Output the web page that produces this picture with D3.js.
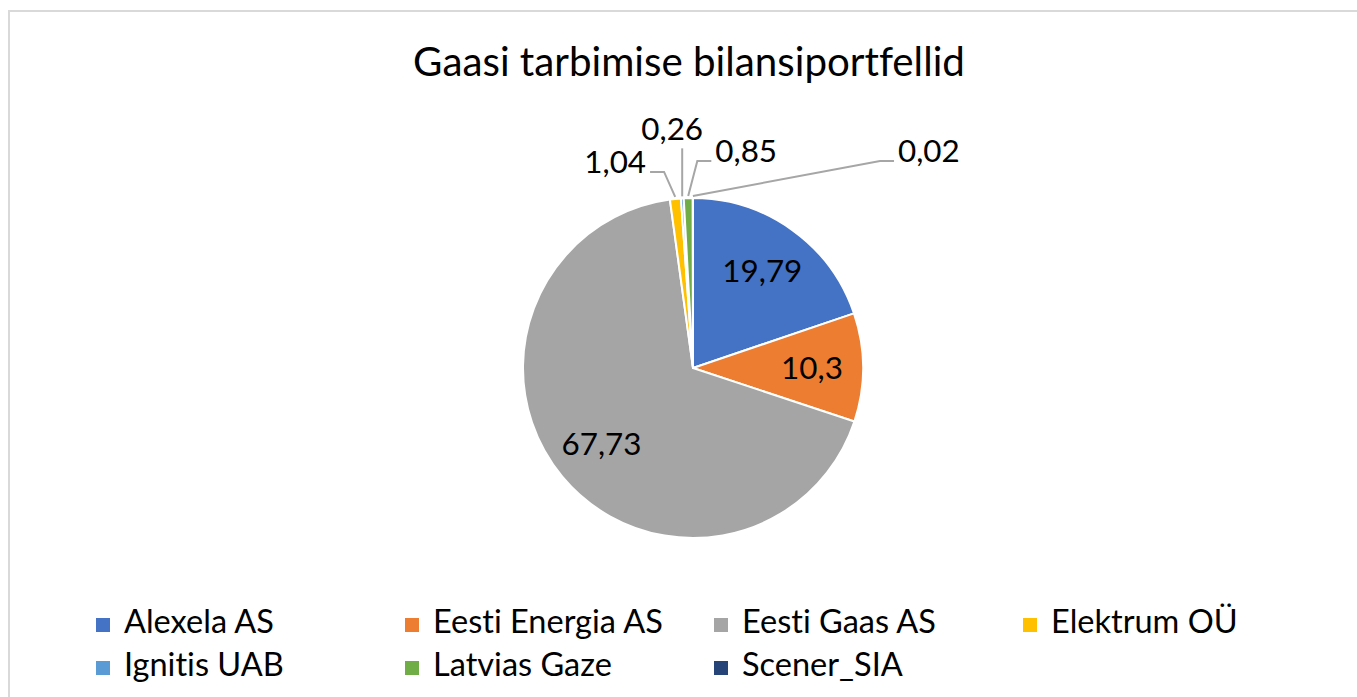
<!DOCTYPE html>
<html>
<head>
<meta charset="utf-8">
<script src="https://cdn.jsdelivr.net/npm/d3@7"></script>
<style>
    html, body { margin: 0; padding: 0; background: #fff; overflow: hidden; }
    svg { display: block; }
    text { font-variant-ligatures: none; font-feature-settings: "liga" 0, "clig" 0; }
</style>
</head>
<body>
<svg id="svg" width="1357" height="697"></svg>
<script>
// --- Data ---
const TITLE     = 'Gaasi tarbimise bilansiportfellid';
const companies = ['Alexela AS', 'Eesti Energia AS', 'Eesti Gaas AS', 'Elektrum OÜ', 'Ignitis UAB', 'Latvias Gaze', 'Scener_SIA'];
const shares    = [19.79, 10.3, 67.73, 1.04, 0.26, 0.85, 0.02];
const labels    = ['19,79', '10,3', '67,73', '1,04', '0,26', '0,85', '0,02'];
const colors    = ['#4472C4', '#ED7D31', '#A5A5A5', '#FFC000', '#5B9BD5', '#70AD47', '#264478'];

// label placement for the thin slices (offset of label centre from the slice's outer edge)
const LEADERS = {
    'Elektrum OÜ':  { dx: -60,  dy: -35, side: 'left'  },
    'Ignitis UAB':  { dx: -10,  dy: -67, side: 'up'    },
    'Latvias Gaze': { dx:  58,  dy: -45, side: 'right' },
    'Scener_SIA':   { dx: 236,  dy: -45, side: 'right' },
};

const FONT = 'Lato, "Open Sans", sans-serif';
const W = 1357, H = 697;
const cx = 693, cy = 368, R = 170;

const svg = d3.select('#svg');

// fit a font size so that text reaches a given width
function fitSize(text, width) {
    const t = svg.append('text').attr('font-family', FONT).attr('font-size', 100).text(text);
    const len = t.node().getComputedTextLength();
    t.remove();
    return 100 * width / len;
}

// --- Frame ---
svg.append('rect')
    .attr('x', 9).attr('y', 11)
    .attr('width', W + 20).attr('height', H + 20)
    .attr('fill', '#fff')
    .attr('stroke', '#d9d9d9')
    .attr('stroke-width', 2);

// --- Title ---
svg.append('text')
    .attr('x', 689).attr('y', 76)
    .attr('text-anchor', 'middle')
    .attr('font-family', FONT)
    .attr('font-size', fitSize(TITLE, 552))
    .attr('fill', '#000')
    .text(TITLE);

// --- Pie ---
const data = companies.map((c, i) => ({ name: c, value: shares[i], label: labels[i], color: colors[i] }));

const pie = d3.pie().sort(null).value(d => d.value);
const arcs = pie(data);
const arc = d3.arc().innerRadius(0).outerRadius(R);
const labelArc = d3.arc().innerRadius(R * 0.7).outerRadius(R * 0.7);

const g = svg.append('g').attr('transform', `translate(${cx},${cy})`);

g.selectAll('path.slice')
    .data(arcs).join('path')
    .attr('class', 'slice')
    .attr('d', arc)
    .attr('fill', d => d.data.color)
    .attr('stroke', '#fff')
    .attr('stroke-width', 2)
    .attr('stroke-linejoin', 'round');

const labelSize = fitSize('19,79', 80);

// inside labels for the large slices
g.selectAll('text.inner')
    .data(arcs.filter(d => !LEADERS[d.data.name])).join('text')
    .attr('class', 'inner')
    .attr('transform', d => `translate(${labelArc.centroid(d)})`)
    .attr('text-anchor', 'middle')
    .attr('dy', '0.35em')
    .attr('font-family', FONT)
    .attr('font-size', labelSize)
    .attr('fill', '#000')
    .text(d => d.data.label);

// outside labels with leader lines for the thin slices
const outer = arcs.filter(d => LEADERS[d.data.name]);

outer.forEach(d => {
    const L = LEADERS[d.data.name];
    const mid = (d.startAngle + d.endAngle) / 2;
    const ex = Math.sin(mid) * (R + 2);
    const ey = -Math.cos(mid) * (R + 2);
    const lx = ex + L.dx;
    const ly = ey + L.dy;

    const t = g.append('text')
        .attr('x', lx).attr('y', ly)
        .attr('text-anchor', 'middle')
        .attr('dy', '0.35em')
        .attr('font-family', FONT)
        .attr('font-size', labelSize)
        .attr('fill', '#000')
        .text(d.data.label);
    const half = t.node().getComputedTextLength() / 2;

    let pts;
    if (L.side === 'up') {
        pts = [[ex, ey], [ex, ly + 19]];
    } else if (L.side === 'left') {
        const x1 = lx + half + 4;
        pts = [[ex, ey], [x1 + 14, ly + 10], [x1, ly + 10]];
    } else {
        const x1 = lx - half - 4;
        pts = [[ex, ey], [x1 - 14, ly + 10], [x1, ly + 10]];
    }

    g.insert('path', 'text')
        .attr('d', d3.line()(pts))
        .attr('fill', 'none')
        .attr('stroke', '#a6a6a6')
        .attr('stroke-width', 2);
});

// --- Legend ---
const legendSize = fitSize('Alexela AS', 150);
const colX = d3.scaleLinear().domain([0, 1]).range([96, 405]);
const rowY = d3.scaleLinear().domain([0, 1]).range([633, 676]);

const item = svg.append('g')
    .selectAll('g.legend')
    .data(data).join('g')
    .attr('class', 'legend')
    .attr('transform', (d, i) => `translate(${colX(i % 4)},${rowY(Math.floor(i / 4))})`);

item.append('rect')
    .attr('x', 0).attr('y', -15)
    .attr('width', 14).attr('height', 14)
    .attr('fill', d => d.color);

item.append('text')
    .attr('x', 28).attr('y', 0)
    .attr('font-family', FONT)
    .attr('font-size', legendSize)
    .attr('fill', '#000')
    .text(d => d.name);
</script>
</body>
</html>
